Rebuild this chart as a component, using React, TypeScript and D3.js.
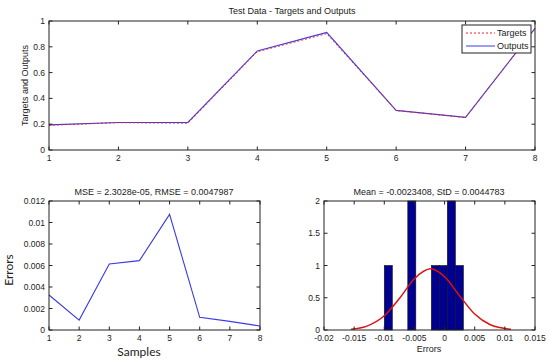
import React, { useEffect, useRef } from 'react';
import * as d3 from 'd3';

// sample index 1..8
const samples = [1, 2, 3, 4, 5, 6, 7, 8];
const targets = [0.192, 0.212, 0.208, 0.762, 0.902, 0.306, 0.252, 0.94];
const outputs = [0.195, 0.213, 0.214, 0.768, 0.912, 0.307, 0.253, 0.943];
const errors = [0.00326, 0.00092, 0.00614, 0.00645, 0.01076, 0.00118, 0.0008, 0.00037];

// histogram of errors
const binStarts = [-0.01, -0.0061, -0.0022, -0.00087, 0.00046, 0.00179];
const binCounts = [1, 2, 1, 1, 2, 1];
const binWidth = 0.00133;

// fitted normal curve
const fitX = [-0.0155, -0.013, -0.01, -0.0075, -0.005, -0.0023, 0, 0.0025, 0.005, 0.0075, 0.011];
const fitY = [0.013, 0.056, 0.22, 0.488, 0.795, 0.948, 0.826, 0.529, 0.247, 0.085, 0.011];

const topYTicks = [0, 0.2, 0.4, 0.6, 0.8, 1];
const errYTicks = [0, 0.002, 0.004, 0.006, 0.008, 0.01, 0.012];
const histXTicks = [-0.02, -0.015, -0.01, -0.005, 0, 0.005, 0.01, 0.015];
const histYTicks = [0, 0.5, 1, 1.5, 2];

const W = 550;
const H = 361;
const FONT = 'Arial, "Liberation Sans", sans-serif';
const TICK_FS = 8.5;

type Lin = d3.ScaleLinear<number, number>;

function drawBox(g: d3.Selection<SVGGElement, unknown, null, undefined>, x: Lin, y: Lin,
  xt: number[], yt: number[], xfmt: (v: number) => string, yfmt: (v: number) => string) {
  const [x0, x1] = x.range();
  const [y0, y1] = y.range();
  const tl = 3.5;
  // ticks inside, on all four sides
  xt.forEach(v => {
    g.append('line').attr('x1', x(v)).attr('x2', x(v)).attr('y1', y0).attr('y2', y0 - tl).attr('stroke', '#222');
    g.append('line').attr('x1', x(v)).attr('x2', x(v)).attr('y1', y1).attr('y2', y1 + tl).attr('stroke', '#222');
    g.append('text').attr('x', x(v)).attr('y', y0 + 10.5).attr('text-anchor', 'middle')
      .attr('font-size', TICK_FS).attr('fill', '#222').text(xfmt(v));
  });
  yt.forEach(v => {
    g.append('line').attr('x1', x0).attr('x2', x0 + tl).attr('y1', y(v)).attr('y2', y(v)).attr('stroke', '#222');
    g.append('line').attr('x1', x1).attr('x2', x1 - tl).attr('y1', y(v)).attr('y2', y(v)).attr('stroke', '#222');
    g.append('text').attr('x', x0 - 4).attr('y', y(v) + 3).attr('text-anchor', 'end')
      .attr('font-size', TICK_FS).attr('fill', '#222').text(yfmt(v));
  });
  g.append('rect').attr('x', x0).attr('y', y1).attr('width', x1 - x0).attr('height', y0 - y1)
    .attr('fill', 'none').attr('stroke', '#222').attr('stroke-width', 1);
}

export default function App() {
  const svgRef = useRef<SVGSVGElement>(null);

  useEffect(() => {
    if (!svgRef.current) return;
    const svg = d3.select(svgRef.current);
    svg.selectAll('*').remove();
    svg.append('rect').attr('width', W).attr('height', H).attr('fill', '#fff');
    const root = svg.append('g').style('font-family', FONT);

    // ---- top: targets and outputs
    const xTop = d3.scaleLinear().domain([1, 8]).range([49, 535]);
    const yTop = d3.scaleLinear().domain([0, 1]).range([150, 21]);
    const gTop = root.append('g');
    const lineTop = (vals: number[]) => d3.line<number>().x((_, i) => xTop(samples[i])).y(d => yTop(d))(vals);
    gTop.append('path').attr('d', lineTop(outputs)).attr('fill', 'none').attr('stroke', '#3a3ae6').attr('stroke-width', 1.1);
    gTop.append('path').attr('d', lineTop(targets)).attr('fill', 'none').attr('stroke', '#ee2222')
      .attr('stroke-width', 1).attr('stroke-dasharray', '2,2');
    drawBox(gTop, xTop, yTop, samples, topYTicks, d => String(d), d => String(d));
    gTop.append('text').attr('x', 292).attr('y', 14).attr('text-anchor', 'middle').attr('font-size', 9)
      .attr('fill', '#222').text('Test Data - Targets and Outputs');
    gTop.append('text').attr('transform', 'translate(28,85.5) rotate(-90)').attr('text-anchor', 'middle')
      .attr('font-size', 9).attr('fill', '#222').text('Targets and Outputs');

    // legend
    const lg = gTop.append('g');
    lg.append('rect').attr('x', 462).attr('y', 25).attr('width', 69).attr('height', 28)
      .attr('fill', '#fff').attr('stroke', '#222');
    lg.append('line').attr('x1', 466).attr('x2', 495).attr('y1', 33).attr('y2', 33)
      .attr('stroke', '#ee2222').attr('stroke-dasharray', '2,2');
    lg.append('line').attr('x1', 466).attr('x2', 495).attr('y1', 46).attr('y2', 46).attr('stroke', '#3a3ae6');
    lg.append('text').attr('x', 497).attr('y', 36).attr('font-size', 9).attr('fill', '#222').text('Targets');
    lg.append('text').attr('x', 497).attr('y', 49).attr('font-size', 9).attr('fill', '#222').text('Outputs');

    // ---- bottom left: errors
    const xErr = d3.scaleLinear().domain([1, 8]).range([49, 260]);
    const yErr = d3.scaleLinear().domain([0, 0.012]).range([330, 201]);
    const gErr = root.append('g');
    gErr.append('path')
      .attr('d', d3.line<number>().x((_, i) => xErr(samples[i])).y(d => yErr(d))(errors))
      .attr('fill', 'none').attr('stroke', '#3a3ae6').attr('stroke-width', 1.1);
    drawBox(gErr, xErr, yErr, samples, errYTicks, d => String(d), d => String(+d.toFixed(3)));
    gErr.append('text').attr('x', 154).attr('y', 195).attr('text-anchor', 'middle').attr('font-size', 9)
      .attr('fill', '#222').text('MSE = 2.3028e-05, RMSE = 0.0047987');
    gErr.append('text').attr('x', 139).attr('y', 356).attr('text-anchor', 'middle')
      .attr('font-family', 'Lato, "Open Sans", sans-serif').attr('font-size', 12).attr('fill', '#222').text('Samples');
    gErr.append('text').attr('transform', 'translate(13,270) rotate(-90)').attr('text-anchor', 'middle')
      .attr('font-family', 'Lato, "Open Sans", sans-serif').attr('font-size', 12).attr('fill', '#222').text('Errors');

    // ---- bottom right: histogram
    const xH = d3.scaleLinear().domain([-0.02, 0.015]).range([324, 535]);
    const yH = d3.scaleLinear().domain([0, 2]).range([330, 201]);
    const gH = root.append('g');
    gH.selectAll('rect.bar').data(binStarts).join('rect').attr('class', 'bar')
      .attr('x', d => xH(d)).attr('width', d => xH(d + binWidth) - xH(d))
      .attr('y', (_, i) => yH(binCounts[i])).attr('height', (_, i) => yH(0) - yH(binCounts[i]))
      .attr('fill', '#000090').attr('stroke', '#111').attr('stroke-width', 0.6);
    gH.append('path')
      .attr('d', d3.line<number>().x(d => xH(d)).y((_, i) => yH(fitY[i])).curve(d3.curveMonotoneX)(fitX))
      .attr('fill', 'none').attr('stroke', '#e01010').attr('stroke-width', 1.5);
    drawBox(gH, xH, yH, histXTicks, histYTicks, d => String(+d.toFixed(3)), d => String(d));
    gH.append('text').attr('x', 429).attr('y', 195).attr('text-anchor', 'middle').attr('font-size', 9)
      .attr('fill', '#222').text('Mean = -0.0023408, StD = 0.0044783');
    gH.append('text').attr('x', 429).attr('y', 352).attr('text-anchor', 'middle').attr('font-size', 9)
      .attr('fill', '#222').text('Errors');
  }, []);

  return (
    <svg ref={svgRef} width={W} height={H}
      style={{ position: 'absolute', left: 0, top: 0, display: 'block' }} />
  );
}
